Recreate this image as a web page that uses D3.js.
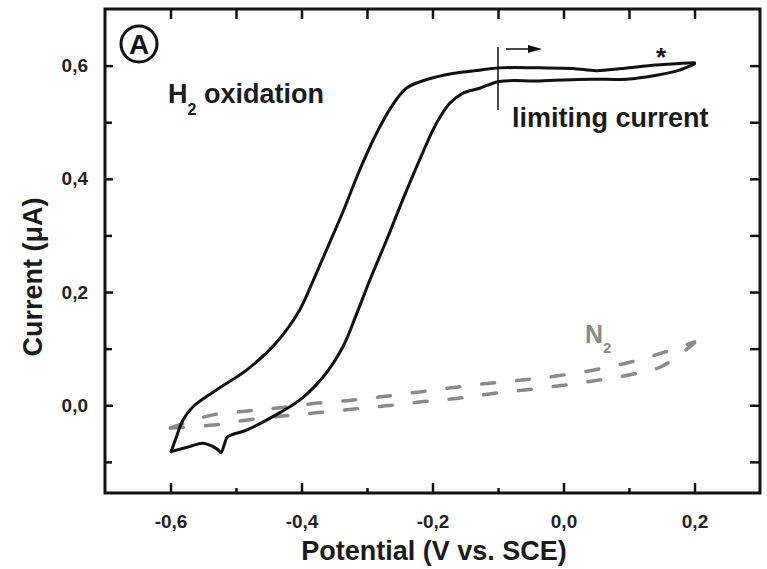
<!DOCTYPE html>
<html>
<head>
<meta charset="utf-8">
<script src="https://cdn.jsdelivr.net/npm/d3@7"></script>
<style>
  html, body { margin: 0; padding: 0; background: #fff; }
  svg { display: block; }
  text { font-family: "Liberation Sans", Arial, sans-serif; }
</style>
</head>
<body>
<svg id="chart" width="767" height="569"></svg>
<script>
// ---------- data (potential V vs. SCE, current µA) ----------
const h2UpperBranch = [
  [-0.599,-0.082], [-0.591,-0.056], [-0.581,-0.026], [-0.566,-0.003], [-0.530,0.027],
  [-0.484,0.062], [-0.439,0.110], [-0.403,0.168], [-0.383,0.218], [-0.362,0.274],
  [-0.337,0.341], [-0.311,0.416], [-0.287,0.477], [-0.264,0.525], [-0.240,0.560],
  [-0.210,0.575], [-0.169,0.586], [-0.128,0.592], [-0.098,0.596], [-0.037,0.596],
  [0.014,0.595], [0.050,0.591], [0.091,0.595], [0.142,0.601], [0.200,0.605]
];
const h2LowerBranch = [
  [-0.599,-0.082], [-0.571,-0.073], [-0.551,-0.067], [-0.535,-0.073], [-0.527,-0.079],
  [-0.523,-0.084], [-0.518,-0.070], [-0.513,-0.056], [-0.484,-0.044], [-0.439,-0.017],
  [-0.403,0.009], [-0.367,0.050], [-0.337,0.103], [-0.316,0.161], [-0.295,0.223],
  [-0.269,0.295], [-0.243,0.370], [-0.215,0.446], [-0.194,0.498], [-0.174,0.533],
  [-0.154,0.551], [-0.128,0.560], [-0.098,0.572], [-0.037,0.573], [0.040,0.576],
  [0.096,0.576], [0.142,0.583], [0.177,0.592], [0.200,0.603]
];
const n2UpperBranch = [
  [-0.600,-0.040], [-0.570,-0.028], [-0.535,-0.017], [-0.482,-0.010], [-0.429,-0.004],
  [-0.375,0.004], [-0.324,0.009], [-0.271,0.016], [-0.217,0.024], [-0.164,0.032],
  [-0.113,0.039], [-0.060,0.045], [-0.009,0.052], [0.045,0.062], [0.098,0.075],
  [0.149,0.092], [0.200,0.112]
];
const n2LowerBranch = [
  [-0.600,-0.040], [-0.535,-0.035], [-0.482,-0.026], [-0.429,-0.019], [-0.375,-0.013],
  [-0.324,-0.007], [-0.271,-0.001], [-0.217,0.006], [-0.164,0.012], [-0.113,0.020],
  [-0.060,0.027], [-0.009,0.034], [0.045,0.043], [0.098,0.053], [0.149,0.068],
  [0.200,0.110]
];
const xMajorTicks = [-0.6, -0.4, -0.2, 0.0, 0.2];
const xMinorTicks = [-0.5, -0.3, -0.1, 0.1];
const yMajorTicks = [0.0, 0.2, 0.4, 0.6];
const yMinorTicks = [-0.1, 0.1, 0.3, 0.5];
const xDomain = [-0.7, 0.3];
const yDomain = [-0.155, 0.7];
const limitMarkerV = -0.1;   // vertical marker potential
const xTitle = "Potential (V vs. SCE)";
const yTitle = "Current (\u03bcA)";

// ---------- layout ----------
const W = 767, H = 569;
const margin = {left: 105, top: 9, right: 7, bottom: 76};
const svg = d3.select("#chart");

const x = d3.scaleLinear().domain(xDomain).range([margin.left, W - margin.right]);
const y = d3.scaleLinear().domain(yDomain).range([H - margin.bottom, margin.top]);

const fmt = d3.formatLocale({decimal: ",", thousands: ".", grouping: [3], currency: ["", ""], minus: "-"}).format(".1f");
const allX = xMajorTicks.concat(xMinorTicks);
const allY = yMajorTicks.concat(yMinorTicks);

function styleAxis(g) {
  g.select(".domain").remove();
  g.selectAll(".tick line").attr("stroke", "#111").attr("stroke-width", 2.5);
  g.selectAll(".tick text").attr("fill", "#222").attr("font-size", 19).attr("font-weight", "bold")
    .style("font-family", "'Liberation Sans', Arial, sans-serif");
}

// bottom major
svg.append("g").attr("transform", `translate(0,${y.range()[0]})`)
  .call(d3.axisBottom(x).tickValues(xMajorTicks).tickSize(-10).tickPadding(22).tickFormat(fmt))
  .call(styleAxis);
// bottom minor
svg.append("g").attr("transform", `translate(0,${y.range()[0]})`)
  .call(d3.axisBottom(x).tickValues(xMinorTicks).tickSize(-5).tickFormat(""))
  .call(styleAxis);
// top
svg.append("g").attr("transform", `translate(0,${y.range()[1]})`)
  .call(d3.axisTop(x).tickValues(allX).tickSize(-10).tickFormat(""))
  .call(styleAxis);
// left major
svg.append("g").attr("transform", `translate(${x.range()[0]},0)`)
  .call(d3.axisLeft(y).tickValues(yMajorTicks).tickSize(-8).tickPadding(17).tickFormat(fmt))
  .call(styleAxis);
// left minor
svg.append("g").attr("transform", `translate(${x.range()[0]},0)`)
  .call(d3.axisLeft(y).tickValues(yMinorTicks).tickSize(-7).tickFormat(""))
  .call(styleAxis);
// right
svg.append("g").attr("transform", `translate(${x.range()[1]},0)`)
  .call(d3.axisRight(y).tickValues(allY).tickSize(-10).tickFormat(""))
  .call(styleAxis);

// frame
svg.append("rect")
  .attr("x", x.range()[0]).attr("y", y.range()[1])
  .attr("width", x.range()[1] - x.range()[0]).attr("height", y.range()[0] - y.range()[1])
  .attr("fill", "none").attr("stroke", "#111").attr("stroke-width", 3);

// ---------- curves ----------
const line = d3.line().x(d => x(d[0])).y(d => y(d[1])).curve(d3.curveCatmullRom.alpha(0.5));

[n2UpperBranch, n2LowerBranch].forEach(b => {
  svg.append("path").datum(b).attr("d", line)
    .attr("fill", "none").attr("stroke", "#8a8a8a").attr("stroke-width", 3.5)
    .attr("stroke-dasharray", "13,22").attr("stroke-linecap", "round");
});

[h2UpperBranch, h2LowerBranch].forEach(b => {
  svg.append("path").datum(b).attr("d", line)
    .attr("fill", "none").attr("stroke", "#111").attr("stroke-width", 3)
    .attr("stroke-linejoin", "round").attr("stroke-linecap", "round");
});

// ---------- annotations ----------
// limiting current marker
svg.append("line")
  .attr("x1", x(limitMarkerV)).attr("x2", x(limitMarkerV))
  .attr("y1", 47).attr("y2", 110)
  .attr("stroke", "#111").attr("stroke-width", 1.5);
svg.append("line")
  .attr("x1", x(limitMarkerV) + 8).attr("x2", x(limitMarkerV) + 32)
  .attr("y1", 49).attr("y2", 49)
  .attr("stroke", "#111").attr("stroke-width", 1.5);
svg.append("path")
  .attr("d", `M${x(limitMarkerV) + 44},49 L${x(limitMarkerV) + 30},45 L${x(limitMarkerV) + 30},53 Z`)
  .attr("fill", "#111");

svg.append("text").attr("x", 512).attr("y", 127)
  .attr("font-size", 27).attr("font-weight", "bold").attr("fill", "#1a1a1a")
  .text("limiting current");

svg.append("text").attr("x", 661).attr("y", 66).attr("text-anchor", "middle")
  .attr("font-size", 26).attr("font-weight", "bold").attr("fill", "#1a1a1a")
  .text("*");

// H2 oxidation
const h2t = svg.append("text").attr("x", 168).attr("y", 103)
  .attr("font-size", 27).attr("font-weight", "bold").attr("fill", "#1a1a1a");
h2t.append("tspan").text("H");
h2t.append("tspan").attr("dy", 12).attr("font-size", 16).text("2");
h2t.append("tspan").attr("dy", -12).text(" oxidation");

// N2
const n2t = svg.append("text").attr("x", 585).attr("y", 343)
  .attr("font-size", 25).attr("font-weight", "bold").attr("fill", "#8a8a8a");
n2t.append("tspan").text("N");
n2t.append("tspan").attr("dy", 10).attr("font-size", 15).text("2");

// circled A
svg.append("circle").attr("cx", 139).attr("cy", 44).attr("r", 18)
  .attr("fill", "none").attr("stroke", "#111").attr("stroke-width", 3);
svg.append("text").attr("x", 139).attr("y", 54).attr("text-anchor", "middle")
  .attr("font-size", 28).attr("font-weight", "bold").attr("fill", "#111").text("A");

// axis titles
svg.append("text").attr("x", 434).attr("y", 560)
  .attr("text-anchor", "middle").attr("font-size", 27).attr("font-weight", "bold").attr("fill", "#1a1a1a")
  .text(xTitle);
svg.append("text").attr("transform", `translate(42,277) rotate(-90)`)
  .attr("text-anchor", "middle").attr("font-size", 27).attr("font-weight", "bold").attr("fill", "#1a1a1a")
  .text(yTitle);
</script>
</body>
</html>
